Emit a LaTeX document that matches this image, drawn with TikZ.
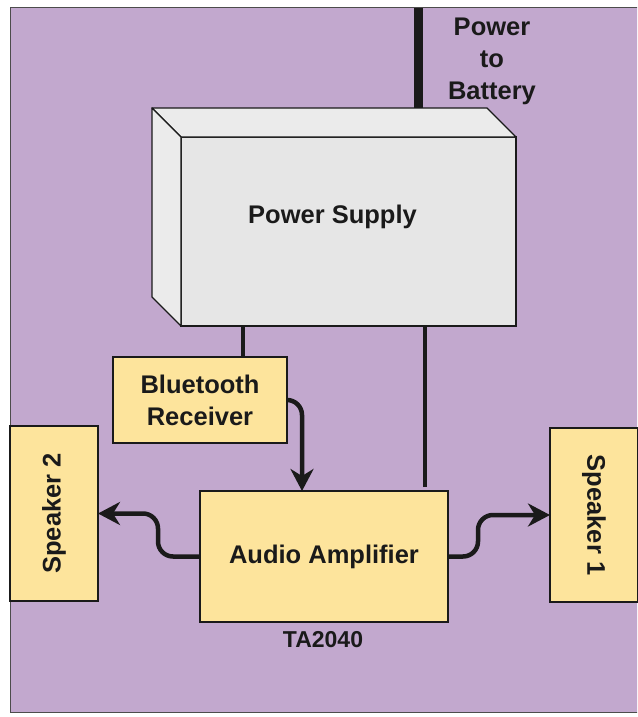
\documentclass[tikz,border=0pt]{standalone}
\usepackage{fontspec}
\setmainfont{Liberation Sans}
\usetikzlibrary{arrows.meta}
\definecolor{bgpurple}{HTML}{C2A8CE}
\definecolor{boxyellow}{HTML}{FDE49C}
\definecolor{psfront}{HTML}{E6E6E6}
\definecolor{psside}{HTML}{EBEBEB}
\definecolor{inkc}{HTML}{1A1A1A}
\begin{document}
\begin{tikzpicture}[x=1pt,y=-1pt,
  txt/.style={font=\fontsize{25.5}{32}\selectfont\bfseries, text=inkc, inner sep=0pt, align=center},
  ybox/.style={draw=inkc, line width=1.3pt, fill=boxyellow, outer sep=0pt, inner sep=0pt},
  psface/.style={draw=inkc, line width=1.3pt, fill=psfront, outer sep=0pt, inner sep=0pt, minimum width=335pt, minimum height=189pt},
  psother/.style={draw=inkc, line width=1.3pt, fill=psside, line join=round},
  wire/.style={draw=inkc, line width=3.5pt},
  sig/.style={draw=inkc, line width=4.5pt, rounded corners=15pt, -{Stealth[length=22pt,width=23pt,inset=7pt]}}
]
\useasboundingbox (0,0) rectangle (637,717);
\begin{scope}
\clip (0,0) rectangle (637,717);
\filldraw[fill=bgpurple, draw=gray!60!black, line width=1pt] (10,8) rectangle (660,712);
\end{scope}

% power supply (3D box)
\node[psface] (ps) at (348.5,231.5) {};
\coordinate (pstopback) at ([shift={(-29,-29)}]ps.north east);
\coordinate (battop) at (418,8);
\draw[draw=inkc, line width=9pt] (battop) -- (battop |- pstopback);
\filldraw[psother] (ps.north west) -- ++(-29,-29) -- (pstopback) -- (ps.north east) -- cycle;
\filldraw[psother] (ps.north west) -- ++(-29,-29) -- ([shift={(-29,-29)}]ps.south west) -- (ps.south west) -- cycle;
\node[txt] (pslabel) at (332.5,217) {Power Supply};

\node[txt] (batlbl) at (492,61) {Power\\to\\Battery};

% blocks
\node[ybox, minimum width=174pt, minimum height=86pt] (bt) at (200,400) {};
\node[txt] (btlbl) at (bt.center) {Bluetooth\\Receiver};

\node[ybox, minimum width=248pt, minimum height=131pt] (amp) at (324,556.5) {};
\node[txt] (amplbl) at (amp.center) {Audio Amplifier};
\node[txt, font=\fontsize{23}{27}\selectfont\bfseries] (ta) at (323,640) {TA2040};

\node[ybox, minimum width=88pt, minimum height=175pt] (spk2) at (54,513.5) {};
\node[txt, rotate=90] (spk2lbl) at (spk2.center) {Speaker 2};

\node[ybox, minimum width=88pt, minimum height=174pt] (spk1) at (594,515) {};
\node[txt, rotate=-90] (spk1lbl) at (spk1.center) {Speaker 1};

% wires from power supply
\draw[wire] ([xshift=43pt]bt.north) -- ([xshift=43pt]bt.north |- ps.south);
\draw[wire, shorten <=4pt] ([xshift=101pt]amp.north) -- ([xshift=101pt]amp.north |- ps.south);

% signal arrows
\draw[sig] (bt.east) -- ([xshift=-22pt]amp.north |- bt.east) -- ([xshift=-22pt]amp.north);
\draw[sig] (amp.west) -- ++(-42,0) -- ([xshift=60pt]spk2.east) -- (spk2.east);
\draw[sig] (amp.east) -- ++(30,0) -- ([xshift=-72pt]spk1.west) -- (spk1.west);
\end{tikzpicture}
\end{document}
